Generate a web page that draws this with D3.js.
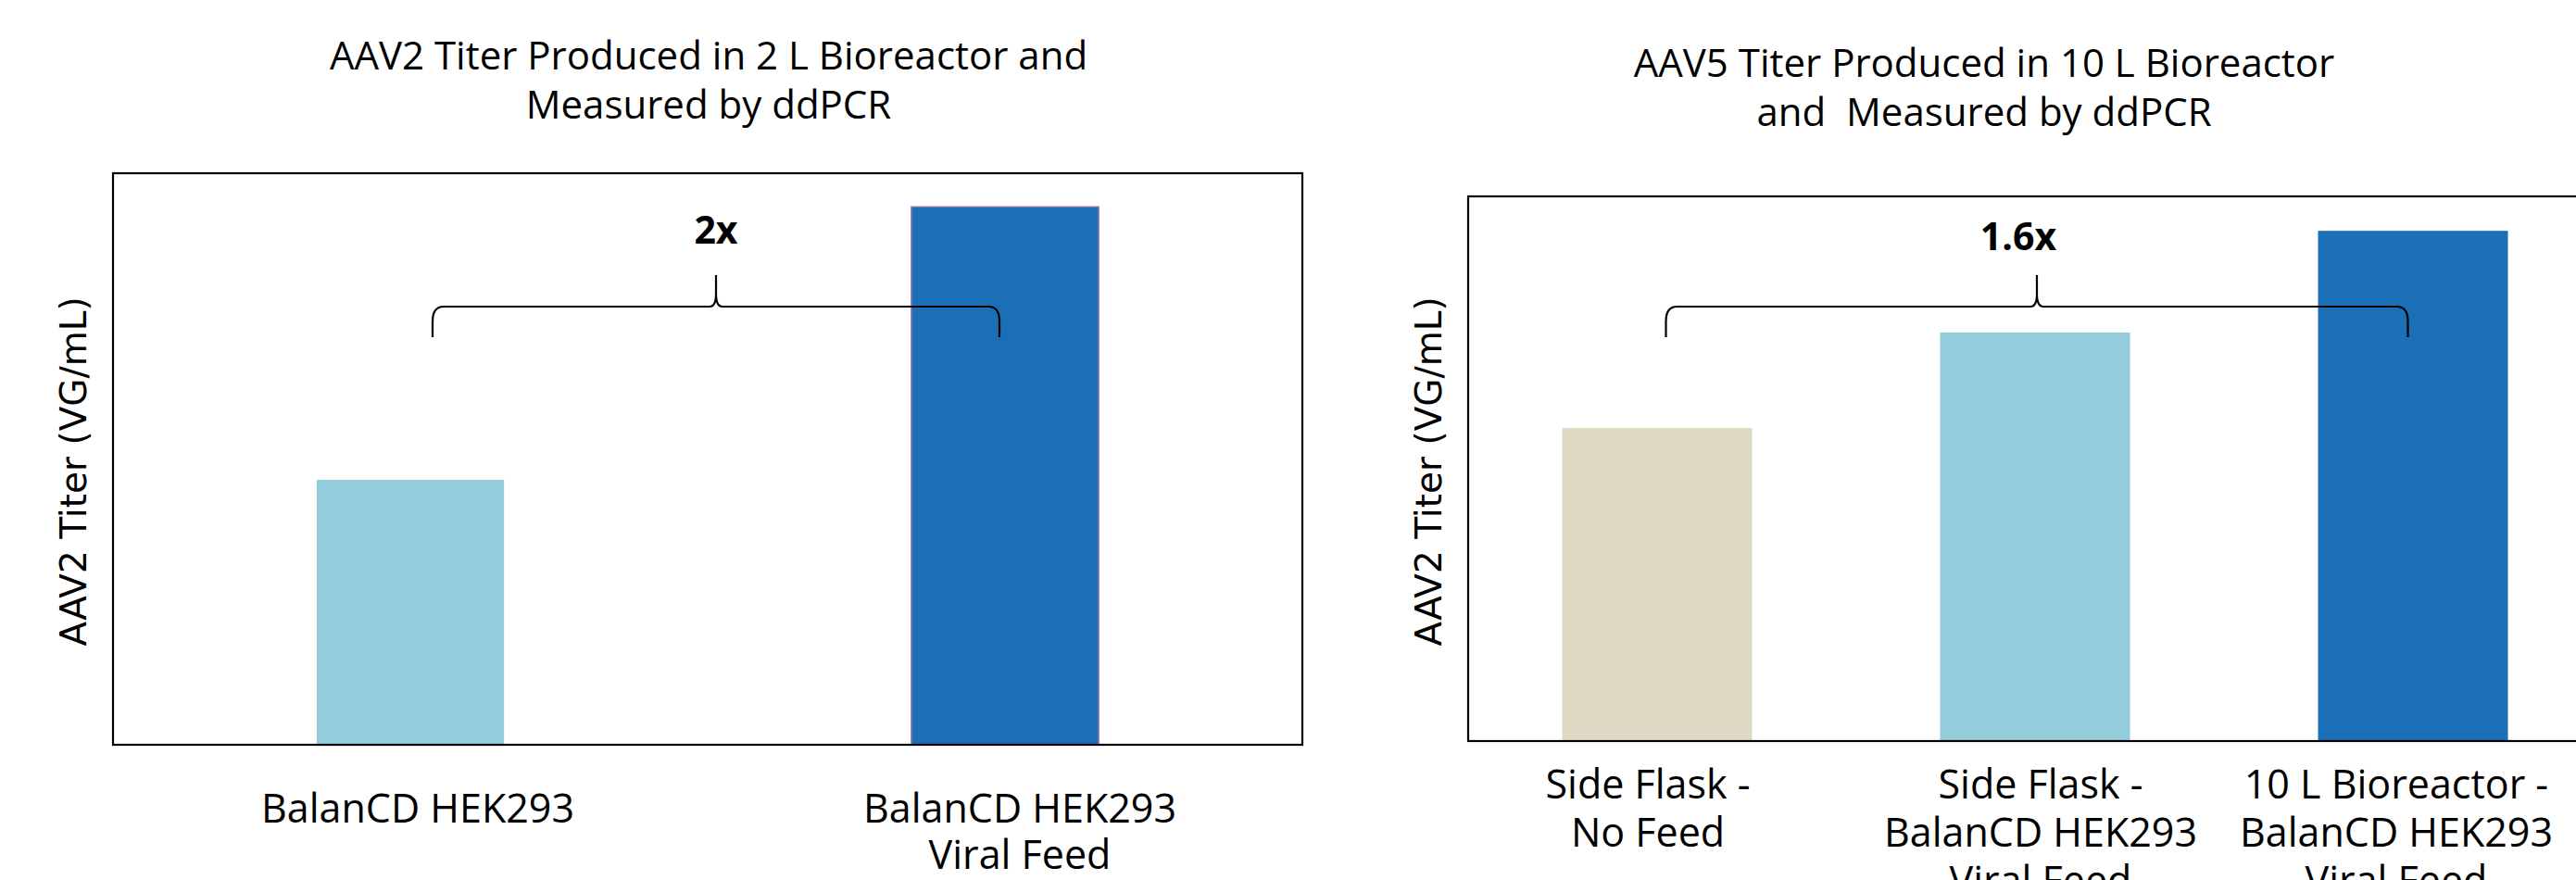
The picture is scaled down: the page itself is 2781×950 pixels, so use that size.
<!DOCTYPE html>
<html>
<head>
<meta charset="utf-8">
<script src="https://cdn.jsdelivr.net/npm/d3@7"></script>
<style>
  html, body { margin: 0; padding: 0; background: #ffffff; overflow: hidden; }
  svg { display: block; }
  text { white-space: pre; }
</style>
</head>
<body>
<svg id="chart" width="2781" height="950"></svg>
<script>
// ---- AAV2, 2 L bioreactor (relative titer, arbitrary units) ----
const aav2Titles = ["AAV2 Titer Produced in 2 L Bioreactor and", "Measured by ddPCR"];
const aav2Categories = [["BalanCD HEK293"], ["BalanCD HEK293", "Viral Feed"]];
const aav2Values = [1.0, 2.03];
const aav2YMax = 2.157;
const aav2Colors = ["#94ccdb", "#1b6fb6"];
const aav2Outline = [null, "#9473b3"];
const aav2Fold = "2x";

// ---- AAV5, 10 L bioreactor (relative titer, arbitrary units) ----
const aav5Titles = ["AAV5 Titer Produced in 10 L Bioreactor", "and  Measured by ddPCR"];
const aav5Categories = [["Side Flask -", "No Feed"],
                        ["Side Flask -", "BalanCD HEK293", "Viral Feed"],
                        ["10 L Bioreactor -", "BalanCD HEK293", "Viral Feed"]];
const aav5Values = [1.0, 1.305, 1.63];
const aav5YMax = 1.74;
const aav5Colors = ["#ded9c3", "#94ccdb", "#1b6fb6"];
const aav5Outline = [null, null, null];
const aav5Fold = "1.6x";

const yAxisTitle = "AAV2 Titer (VG/mL)";

const TEXT_FONT = "'Open Sans', 'Noto Sans', sans-serif";
const AXIS_FONT = "'DejaVu Sans', Verdana, sans-serif";

const svg = d3.select("#chart");

function drawPanel(cfg) {
  const g = svg.append("g");
  const x = d3.scaleBand()
    .domain(cfg.categories.map((d, i) => i))
    .range([cfg.left, cfg.left + cfg.width])
    .paddingInner(cfg.padInner)
    .paddingOuter(cfg.padInner / 2);
  const y = d3.scaleLinear()
    .domain([0, cfg.yMax])
    .range([cfg.top + cfg.height, cfg.top]);

  // title
  g.append("text")
    .attr("text-anchor", "middle")
    .attr("font-family", TEXT_FONT)
    .attr("font-size", cfg.titleSize)
    .attr("fill", "#000")
    .selectAll("tspan")
    .data(cfg.titles)
    .join("tspan")
    .attr("x", cfg.titleX)
    .attr("y", (d, i) => cfg.titleY + i * cfg.titleLead)
    .text(d => d);

  // bars
  g.selectAll("rect.bar")
    .data(cfg.values)
    .join("rect")
    .attr("class", "bar")
    .attr("x", (d, i) => x(i))
    .attr("width", x.bandwidth())
    .attr("y", d => y(d))
    .attr("height", d => y(0) - y(d))
    .attr("fill", (d, i) => cfg.colors[i])
    .attr("stroke", (d, i) => cfg.outline[i] || "none")
    .attr("stroke-width", 1.5);

  // plot frame
  g.append("rect")
    .attr("x", cfg.left)
    .attr("y", cfg.top)
    .attr("width", cfg.width)
    .attr("height", cfg.height)
    .attr("fill", "none")
    .attr("stroke", "#000")
    .attr("stroke-width", 2.2);

  // y axis title
  g.append("text")
    .attr("transform", `translate(${cfg.left - 29},${cfg.yTitleMid}) rotate(-90)`)
    .attr("text-anchor", "middle")
    .attr("font-family", AXIS_FONT)
    .attr("font-size", 39)
    .attr("fill", "#000")
    .text(yAxisTitle);

  // category labels
  const lab = g.selectAll("text.cat")
    .data(cfg.categories)
    .join("text")
    .attr("class", "cat")
    .attr("text-anchor", "middle")
    .attr("font-family", TEXT_FONT)
    .attr("font-size", cfg.labelSize)
    .attr("fill", "#000");
  lab.selectAll("tspan")
    .data((d, i) => d.map(line => ({ line, i })))
    .join("tspan")
    .attr("x", d => x(d.i) + x.bandwidth() / 2 + cfg.labelShift[d.i])
    .attr("y", (d, j) => y(0) + cfg.labelGap + j * cfg.labelLead)
    .text(d => d.line);

  // fold-change brace between first and last bar
  const n = cfg.values.length;
  const x1 = x(0) + x.bandwidth() / 2 + cfg.braceInset[0];
  const x2 = x(n - 1) + x.bandwidth() / 2 + cfg.braceInset[1];
  const xm = (x1 + x2) / 2;
  const yb = cfg.braceY, yEnd = yb + 33, yTip = yb - 34;
  const p = d3.path();
  p.moveTo(x1, yEnd);
  p.lineTo(x1, yb + 16);
  p.quadraticCurveTo(x1, yb, x1 + 12, yb);
  p.lineTo(xm - 7, yb);
  p.quadraticCurveTo(xm, yb, xm, yb - 14);
  p.lineTo(xm, yTip);
  p.moveTo(xm, yb - 14);
  p.quadraticCurveTo(xm, yb, xm + 7, yb);
  p.lineTo(x2 - 12, yb);
  p.quadraticCurveTo(x2, yb, x2, yb + 16);
  p.lineTo(x2, yEnd);
  g.append("path")
    .attr("d", p.toString())
    .attr("fill", "none")
    .attr("stroke", "#000")
    .attr("stroke-width", 2.2);

  g.append("text")
    .attr("x", xm + cfg.foldShift)
    .attr("y", cfg.foldY)
    .attr("text-anchor", "middle")
    .attr("font-family", TEXT_FONT)
    .attr("font-weight", 700)
    .attr("font-size", 41)
    .attr("fill", "#000")
    .text(cfg.fold);
}

drawPanel({
  titles: aav2Titles, categories: aav2Categories, values: aav2Values,
  yMax: aav2YMax, colors: aav2Colors, outline: aav2Outline, fold: aav2Fold,
  left: 122, top: 187, width: 1284, height: 617, padInner: 0.685,
  titleX: 765, titleY: 75, titleLead: 53, titleSize: 42,
  yTitleMid: 509,
  labelSize: 43, labelGap: 84, labelLead: 50, labelShift: [8, 16],
  braceY: 331, braceInset: [24, -6], foldY: 263, foldShift: 0
});

drawPanel({
  titles: aav5Titles, categories: aav5Categories, values: aav5Values,
  yMax: aav5YMax, colors: aav5Colors, outline: aav5Outline, fold: aav5Fold,
  left: 1585, top: 212, width: 1224, height: 588, padInner: 0.4975,
  titleX: 2142, titleY: 83, titleLead: 53, titleSize: 42,
  yTitleMid: 509,
  labelSize: 43, labelGap: 62, labelLead: 52, labelShift: [-10, 6, -18],
  braceY: 331, braceInset: [9.5, -5.5], foldY: 270, foldShift: -20
});
</script>
</body>
</html>
